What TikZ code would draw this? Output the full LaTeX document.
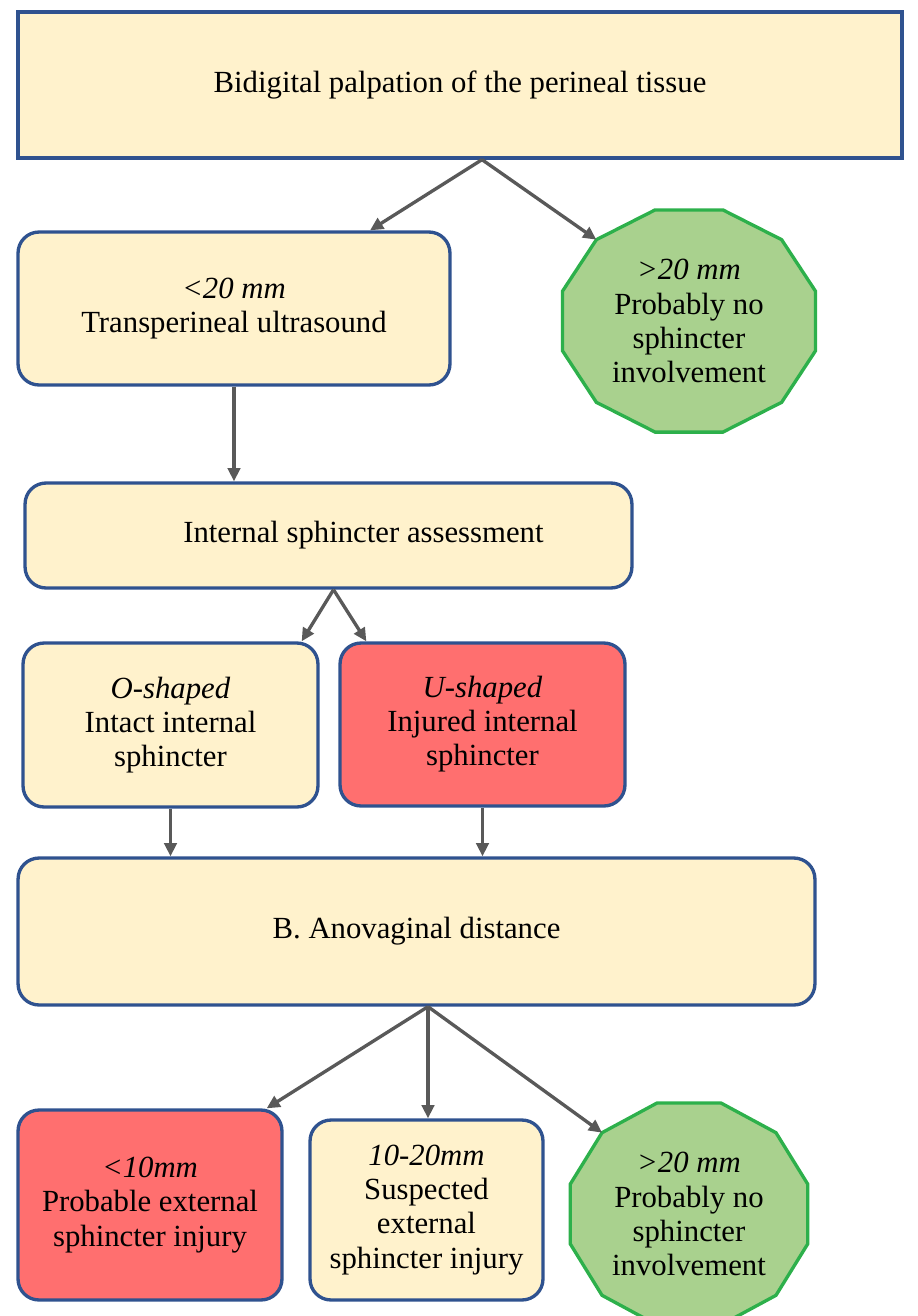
\documentclass[tikz,border=0pt]{standalone}
\usepackage{fontspec}
\setmainfont{Liberation Serif}
\usetikzlibrary{positioning,calc,arrows.meta}
\definecolor{boxblue}{HTML}{2F528F}
\definecolor{cream}{HTML}{FFF2CC}
\definecolor{alarm}{HTML}{FF6F6F}
\definecolor{leaf}{HTML}{A9D18E}
\definecolor{leafline}{HTML}{2DB04B}
\definecolor{arrowgray}{HTML}{595959}
\tikzset{
>={Triangle[length=7.5pt,width=7pt]}, % small solid arrow heads
flowbox/.style={draw=boxblue, line width=1.9pt, fill=cream, rounded corners=0.42cm, align=center, inner sep=0pt}, % the cream boxes
alarmbox/.style={flowbox, fill=alarm}, % the red boxes
dodec/.style={draw=leafline, line width=1.9pt, fill=leaf}, % the green 12-gons
flow/.style={->, draw=arrowgray, line width=1.9pt}, % the connectors
}

\begin{document}
\begin{tikzpicture}[x=0.02cm, y=0.02cm, font=\fontsize{17.5}{19.4}\selectfont]
        \useasboundingbox (0,0) rectangle (918,-1316);
        \node[flowbox, rounded corners=0pt, minimum width=17.68cm, minimum height=2.92cm] at (460,-85) (palp) {Bidigital palpation of the perineal tissue};
        \node[flowbox, minimum width=8.64cm, minimum height=3.06cm] at (234,-308.5) (ultra) {\textit{<20 mm}\\Transperineal ultrasound};
        \draw[dodec, shift={(689,-321)}] (15:131 and 115) \foreach \a in {45,75,...,345} { -- (\a:131 and 115) } -- cycle;
        \node[align=center] at (689,-321) (nosph1) {\textit{>20 mm}\\Probably no\\sphincter\\involvement};
        \node[flowbox, minimum width=12.14cm, minimum height=2.1cm] at (328.5,-535.5) (assess) {\hspace*{1.4cm}Internal sphincter assessment};
        \node[flowbox, minimum width=5.9cm, minimum height=3.28cm] at (170.5,-725) (oshape) {\textit{O-shaped}\\Intact internal\\sphincter};
        \node[alarmbox, minimum width=5.7cm, minimum height=3.26cm] at (482.5,-724.5) (ushape) {\textit{U-shaped}\\Injured internal\\sphincter};
        \node[flowbox, minimum width=15.94cm, minimum height=2.94cm] at (416.5,-931.5) (anov) {B. Anovaginal distance};
        \node[alarmbox, minimum width=5.28cm, minimum height=3.8cm] at (150,-1205) (small) {\textit{<10mm}\\Probable external\\sphincter injury};
        \node[flowbox, minimum width=4.66cm, minimum height=3.6cm] at (426.5,-1210) (medium) {\textit{10-20mm}\\Suspected\\external\\sphincter injury};
        \draw[dodec, shift={(689,-1214)}] (15:123 and 115) \foreach \a in {45,75,...,345} { -- (\a:123 and 115) } -- cycle;
        \node[align=center] at (689,-1214) (nosph2) {\textit{>20 mm}\\Probably no\\sphincter\\involvement};
        % split points under the boxes
        \coordinate (fork1) at ($(palp.south)+(22,0)$);
        \coordinate (fork2) at ($(assess.south)+(5,0)$);
        \coordinate (fork3) at ($(anov.south)+(11.5,0)$);
        \draw[flow] (fork1) -- ($(ultra.north)+(136,0)$);
        \draw[flow] (fork1) -- ($(nosph1)+(135:131 and 115)$);
        \draw[flow] (ultra.south) -- (ultra.south |- assess.north);
        \draw[flow] (fork2) -- ($(oshape.north east)+(-18,0)$);
        \draw[flow] (fork2) -- ($(ushape.north west)+(28,0)$);
        \draw[flow] (oshape.south) -- (oshape.south |- anov.north);
        \draw[flow] (ushape.south) -- (ushape.south |- anov.north);
        \draw[flow] (fork3) -- ($(small.north east)+(-17,0)$);
        \draw[flow] (fork3) -- (fork3 |- medium.north);
        \draw[flow] (fork3) -- ($(nosph2)+(135:123 and 115)$);
    \end{tikzpicture}
\end{document}
